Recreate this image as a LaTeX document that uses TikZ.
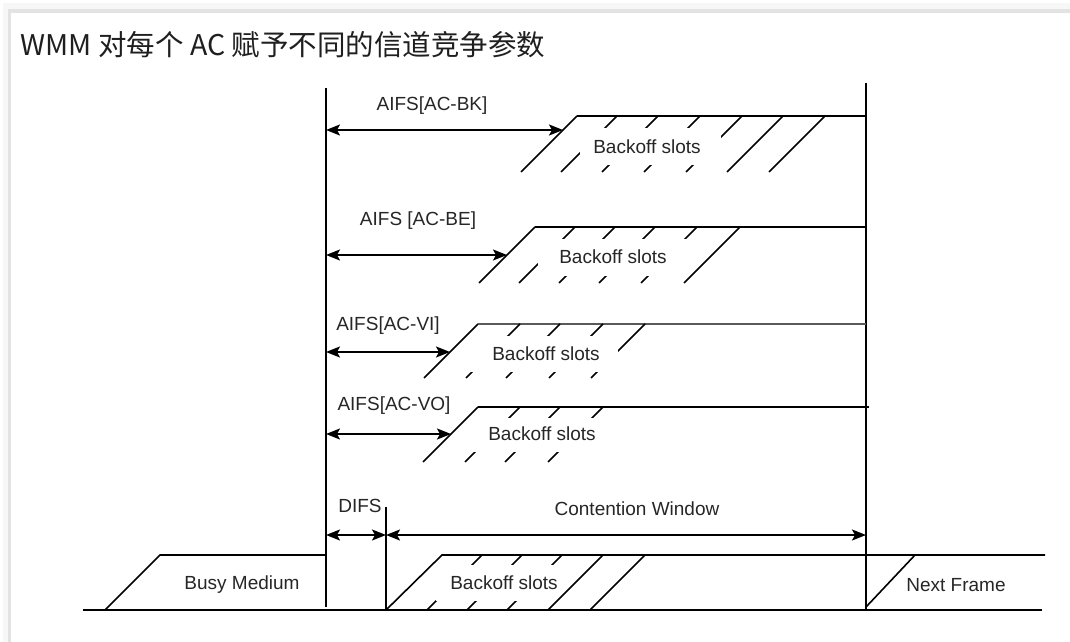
\documentclass[tikz,border=0pt]{standalone}
\usepackage{fontspec}
\setmainfont{Liberation Sans}
\newfontfamily\cjk{Noto Sans CJK SC}
\usetikzlibrary{arrows.meta}
\begin{document}
\begin{tikzpicture}[x=1pt,y=-1pt,line width=1.6pt,
  lbl/.style={font=\fontsize{19}{22}\selectfont,text=black!85,inner sep=0pt},
  dbl/.style={{Stealth[length=14pt,width=11pt,inset=3pt]}-{Stealth[length=14pt,width=11pt,inset=3pt]}}]
\useasboundingbox (0,0) rectangle (1070,642);
% frame
\fill[black!3] (3,3) rectangle (1070,13);
\fill[black!3] (3,3) rectangle (11,642);
\fill[black!11] (8,9) rectangle (1070,13);
\fill[black!11] (8,9) rectangle (11,642);
% title
\node[anchor=west,inner sep=0pt,text=black!88,font=\cjk\fontsize{28.5}{32}\selectfont] (title) at (20,45) {WMM 对每个 AC 赋予不同的信道竞争参数};
% main verticals
\coordinate (Ltop) at (326,88);
\coordinate (Lbot) at (326,607);
\coordinate (Rtop) at (866,83);
\coordinate (Rbot) at (866,610);
\coordinate (Dtop) at (386,507);
\coordinate (Dbot) at (386,610);
\draw (Ltop) -- (Lbot);
\draw (Rtop) -- (Rbot);
\draw (Dtop) -- (Dbot);

% ---- AC-BK row
\draw (577,116) -- (521,172);
\draw (577,116) -- (866,116);
\foreach \t in {617,658,700,742,783,825} \draw (\t,116) -- ({\t-56},172);
\fill[white] (580,128) rectangle (721,165);
\node[lbl] (bkslots) at (647,147) {Backoff slots};
\node[lbl] (bklbl) at (432,106) {AIFS[AC-BK]};
\coordinate (bka) at (326,130);
\coordinate (bkb) at (563,130);
\draw[dbl] (bka) -- (bkb);

% ---- AC-BE row
\draw (535,227) -- (479,283);
\draw (535,227) -- (866,227);
\foreach \t in {575,615,655,697,740} \draw (\t,227) -- ({\t-56},283);
\fill[white] (538,239) rectangle (688,276);
\node[lbl] (beslots) at (613,257) {Backoff slots};
\node[lbl] (belbl) at (418,221) {AIFS [AC-BE]};
\coordinate (bea) at (326,255);
\coordinate (beb) at (507,255);
\draw[dbl] (bea) -- (beb);

% ---- AC-VI row
\draw (478,324) -- (424,378);
\draw[line width=2.8pt,black!65] (478,324) -- (866,324);
\foreach \t in {520,560,603,645} \draw (\t,324) -- ({\t-54},378);
\fill[white] (469,336) rectangle (618,372);
\node[lbl] (vislots) at (546,354) {Backoff slots};
\node[lbl] (vilbl) at (388,326) {AIFS[AC-VI]};
\coordinate (via) at (326,352);
\coordinate (vib) at (450,352);
\draw[dbl] (via) -- (vib);

% ---- AC-VO row
\draw (478,407) -- (423,462);
\draw (478,407) -- (869,407);
\foreach \t in {520,560,603} \draw (\t,407) -- ({\t-55},462);
\fill[white] (469,418) rectangle (616,452);
\node[lbl] (voslots) at (542,434) {Backoff slots};
\node[lbl] (volbl) at (394,406) {AIFS[AC-VO]};
\coordinate (voa) at (326,434);
\coordinate (vob) at (451,434);
\draw[dbl] (voa) -- (vob);

% ---- DIFS / Contention Window
\node[lbl] (difs) at (360,506) {DIFS};
\node[lbl] (cw) at (637,509) {Contention Window};
\coordinate (da) at (326,535);
\coordinate (db) at (386,535);
\coordinate (cb) at (866,535);
\draw[dbl] (da) -- (db);
\draw[dbl] (db) -- (cb);

% ---- bottom medium row
\coordinate (base1) at (83,610);
\coordinate (base2) at (1042,610);
\draw (base1) -- (base2);
\draw (105,610) -- (160,555) -- (326,555);
\draw (386,610) -- (442,555) -- (1045,555);
\foreach \t in {482,522,562,603,645} \draw (\t,555) -- ({\t-55},610);
\fill[white] (436,565) rectangle (555,601);
\draw (866,607) -- (915,555);
\node[lbl] (busy) at (242,585) {Busy Medium};
\node[lbl] (bslots) at (504,583) {Backoff slots};
\node[lbl] (next) at (956,585) {Next Frame};
\end{tikzpicture}
\end{document}
